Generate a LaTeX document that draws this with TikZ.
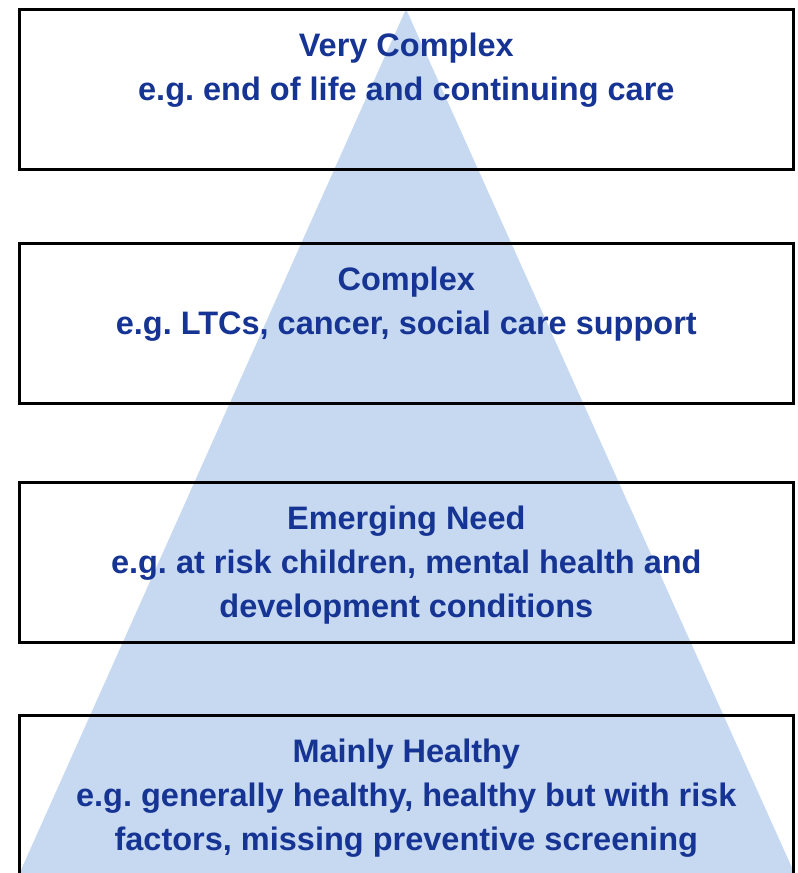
\documentclass[tikz,border=0pt]{standalone}
\usepackage{fontspec}
\setmainfont{Liberation Sans}
\usetikzlibrary{positioning}
\definecolor{tierblue}{RGB}{22,52,148}
\definecolor{pyrfill}{RGB}{198,217,240}

\begin{document}
\frenchspacing
\begin{tikzpicture}[x=1pt, y=-1pt]
  \tikzstyle{tier}=[draw, line width=2.6pt, minimum width=774pt, minimum height=160pt, inner sep=0pt]
  \tikzstyle{tiertext}=[text=tierblue, font=\bfseries\fontsize{32.5}{44}\selectfont, align=center, anchor=north, inner sep=0pt]

  \useasboundingbox (0,0) rectangle (798,873);
  \clip (0,0) rectangle (798,873);

  % Pyramid behind the tiers
  \coordinate (apex) at (406,9);
  \coordinate (baseL) at (16.5,880);
  \coordinate (baseR) at (797.5,880);
  \fill[pyrfill] (apex) -- (baseL) -- (baseR) -- cycle;

  % Tiers, top to bottom
  \node[tier, anchor=north west] (vc) at (18,8) {};
  \node[tier, anchor=north west] (cx) at (18,242) {};
  \node[tier, anchor=north west] (em) at (18,481) {};
  \node[tier, anchor=north west] (mh) at (18,714) {};

  \node[tiertext] (vctext) at ([yshift=-25pt]vc.north) {Very Complex\\e.g. end of life and continuing care};
  \node[tiertext] (cxtext) at ([yshift=-25pt]cx.north) {Complex\\e.g. LTCs, cancer, social care support};
  \node[tiertext] (emtext) at ([yshift=-25pt]em.north) {Emerging Need\\e.g. at risk children, mental health and\\development conditions};
  \node[tiertext] (mhtext) at ([yshift=-25pt]mh.north) {Mainly Healthy\\e.g. generally healthy, healthy but with risk\\factors, missing preventive screening};
\end{tikzpicture}
\end{document}
